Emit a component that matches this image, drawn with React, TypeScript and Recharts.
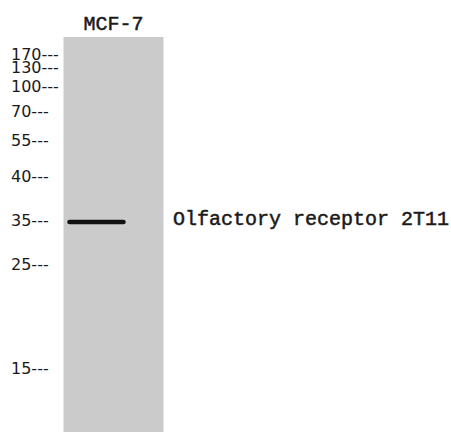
import { ComposedChart, Line, XAxis, YAxis, ReferenceArea, ReferenceLine } from "recharts";

// lane and band
const laneName = "MCF-7";
const bandProtein = "Olfactory receptor 2T11";
const bandPosition = 185; // migration distance of the band
const bandStart = 0.06; // fraction of the lane width
const bandEnd = 0.6;

// molecular weight markers (kDa) and how far each ran down the gel
const markerLabels = ["170", "130", "100", "70", "55", "40", "35", "25", "15"];
const markerPositions = [17, 30, 49, 74, 103.5, 139, 183, 227.5, 331];
const gelLength = 395;

const positionToLabel = new Map(markerPositions.map((pos, i) => [pos, markerLabels[i]]));

const bandData = [
  { x: bandStart, y: bandPosition },
  { x: bandEnd, y: bandPosition },
];

const MarkerTick = ({ y, payload }: any) => (
  <text
    x={11}
    y={y}
    dy={5.8}
    textAnchor="start"
    fontFamily="DejaVu Sans"
    fontSize={16}
    fill="#1a1a1a"
  >
    {`${positionToLabel.get(payload.value) ?? ""}---`}
  </text>
);

// band name sits to the right of the lane, level with the band
const ProteinLabel = ({ viewBox }: any) => (
  <text
    x={173}
    y={viewBox.y + 2.5}
    textAnchor="start"
    fontFamily="Liberation Mono"
    fontSize={20}
    fill="#1a1a1a"
    stroke="#1a1a1a"
    strokeWidth={0.5}
  >
    {bandProtein}
  </text>
);

const LaneTick = ({ x }: any) => (
  <text
    x={x}
    y={30}
    textAnchor="middle"
    fontFamily="Liberation Mono"
    fontSize={20}
    fill="#1a1a1a"
    stroke="#1a1a1a"
    strokeWidth={0.5}
  >
    {laneName}
  </text>
);

export default function App() {
  return (
    <div style={{ position: "absolute", left: 0, top: 0, background: "#fff" }}>
      <ComposedChart
        width={451}
        height={432}
        data={bandData}
        margin={{ top: 0, right: 287.5, left: 0, bottom: 0 }}
      >
        <XAxis
          xAxisId="lane"
          dataKey="x"
          type="number"
          orientation="top"
          domain={[0, 1]}
          ticks={[0.5]}
          height={37}
          axisLine={false}
          tickLine={false}
          tick={<LaneTick />}
        />
        <YAxis
          yAxisId="mw"
          type="number"
          domain={[0, gelLength]}
          reversed
          ticks={markerPositions}
          interval={0}
          width={63.5}
          axisLine={false}
          tickLine={false}
          tick={<MarkerTick />}
        />
        <ReferenceArea
          xAxisId="lane"
          yAxisId="mw"
          x1={0}
          x2={1}
          y1={0}
          y2={gelLength}
          fill="#cbcbcb"
          fillOpacity={1}
          stroke="none"
        />
        <ReferenceLine
          xAxisId="lane"
          yAxisId="mw"
          y={bandPosition}
          stroke="none"
          label={<ProteinLabel />}
        />
        <Line
          xAxisId="lane"
          yAxisId="mw"
          dataKey="y"
          stroke="#111"
          strokeWidth={4.5}
          strokeLinecap="round"
          dot={false}
          activeDot={false}
          isAnimationActive={false}
        />
      </ComposedChart>
    </div>
  );
}
